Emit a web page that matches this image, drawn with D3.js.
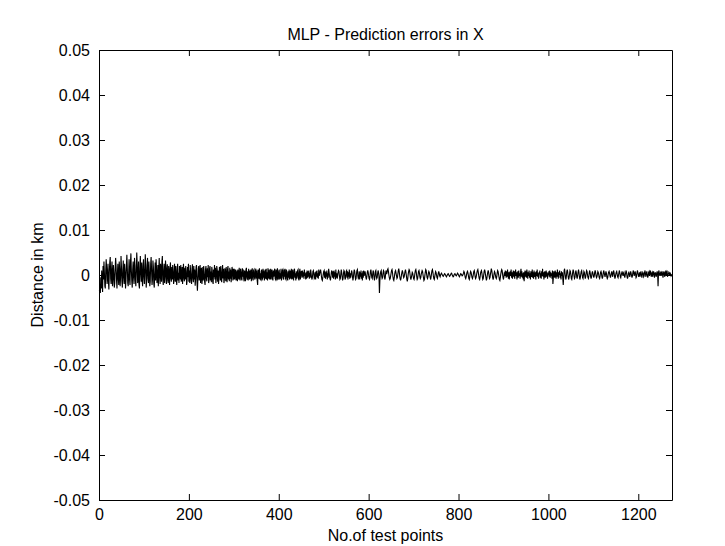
<!DOCTYPE html>
<html>
<head>
<meta charset="utf-8">
<script src="https://cdn.jsdelivr.net/npm/d3@7"></script>
<style>
  body { margin: 0; background: #fff; }
  svg text { font-family: "Liberation Sans", Arial, Helvetica, sans-serif; fill: #000; }
</style>
</head>
<body>
<svg id="chart" width="725" height="546"></svg>
<script>
// prediction error per test point, in units of 0.0001 km
const errorsX = [
  -35,-20,-40,-5,-30,10,-15,-38,20,-10, 30,5,-25,-30,10,35,15,-20,-5,25,
  -15,-32,8,28,40,-8,-20,12,30,-25, -10,22,5,-28,-18,15,38,20,-12,-30,
  5,25,-8,-22,30,12,-25,-5,42,18, -15,-28,10,32,-5,-20,25,8,-30,-12,
  20,45,15,-18,-25,5,35,-10,-22,28, 48,10,-15,-28,12,30,-5,-20,38,22,
  -12,-25,8,50,25,-18,-8,30,-22,-30, 15,42,5,-15,28,-10,-25,20,35,-5,
  -20,10,46,18,-28,-12,22,38,-8,-18, 30,8,-25,-15,25,40,10,-22,-10,32,
  18,-20,-28,5,28,-12,35,15,-18,-8, 22,-25,10,38,-5,-20,25,12,-15,30,
  42,-10,-22,8,25,-18,-5,32,15,-20, 10,24,-12,-18,20,5,-22,15,28,-8,
  -15,18,-10,22,8,-20,-12,25,12,-15, 20,-8,-22,10,25,-12,5,-18,20,15,
  -10,22,-15,-5,18,-20,12,25,-8,-14, 16,-10,20,8,-22,-12,18,-5,25,-15,
  10,-18,22,5,-12,-20,15,24,-8,-16, 20,-10,12,-24,-8,18,22,-15,-35,-10,
  15,20,-12,-5,22,-18,10,16,-20,-8, 18,-12,20,5,-15,-22,12,20,-8,-14,
  15,-5,22,-18,-10,14,20,-12,8,-16, 18,10,-15,-20,12,-5,22,-10,16,-18,
  -8,20,12,-15,10,-20,-5,18,14,-12, 20,-10,-16,8,22,-8,14,-18,-10,15,
  10,-14,18,-6,-16,12,20,-10,8,-14, 16,-8,12,-16,-4,18,10,-12,14,-10,
  14,-10,6,12,-12,-8,10,-14,12,4, -10,16,-6,-12,14,8,-8,-12,15,-4,
  12,-8,-14,10,4,-14,12,16,-6,-10, 8,-12,14,2,-10,10,-8,12,-14,6,
  15,-8,-12,10,12,-6,-10,8,14,-8, 10,-12,-22,12,6,-8,15,-10,4,-12,
  8,12,-10,-8,14,-6,10,-12,-4,12, -8,14,-10,6,-12,15,2,-8,12,-10,
  -6,14,-10,8,12,-8,-12,10,-4,8, 14,-8,-10,12,6,-12,15,-6,-10,8,
  12,-10,4,-8,14,-12,-6,10,12,-6, -10,12,-4,14,-8,-10,12,6,-8,-12,
  8,-6,12,-10,4,10,-8,14,-10,-4, 12,-8,-10,10,14,-6,4,-12,8,-8,
  -4,10,12,-8,-12,6,14,-10,-2,8,
  8,-6,10,-4,6,-8,12,-2,4,-10, 6,-8,10,-6,8,-4,10,-8,5,-6,
  12,4,-6,-10,-4,8,10,2,-8,-6, 6,-10,8,-4,10,-6,4,-8,12,-2,
  2,8,12,6,-4,-10,-12,-6,2,8, 10,-6,8,-8,6,-4,10,-10,4,-6,
  14,6,-2,-8,-12,-4,6,10,4,-6, 8,-8,10,-4,6,-10,12,-6,4,-8,
  -2,6,10,8,-2,-10,-8,2,12,6, -4,-12,-8,4,10,8,-6,-10,-2,8,
  10,-6,8,-10,6,-4,12,-8,4,-6, 2,10,6,-4,-12,-6,6,12,8,-4,
  -10,-8,4,10,12,-2,-8,-6,8,-10, 6,-4,10,-8,4,-12,8,-6,10,-2,
  4,8,2,-6,-10,-4,6,10,6,-2, -8,-10,-2,8,12,4,-6,-8,2,10,
  6,-6,-12,-4,8,10,-2,-8,-6,4, 10,6,-4,-40,-12,2,8,10,-2,-8,
  -6,4,10,8,-4,-10,-6,6,10,2,
  6,12,14,8,0,-6,-10,-8,-2,4, 10,12,6,-4,-10,-12,-6,2,8,10,
  4,-2,-8,-6,2,10,14,8,-2,-8, -12,-8,0,6,10,6,-2,-6,-4,2,
  8,12,6,-2,-10,-14,-8,2,8,12, 10,2,-6,-10,-6,0,6,4,-2,-8,
  -10,-4,4,10,12,6,-4,-10,-8,0, 8,10,4,-4,-8,-6,2,6,10,8,
  0,-6,-12,-10,-2,6,12,10,2,-6, -8,-4,4,8,6,0,-6,-10,-4,4,
  10,12,6,-2,-8,-10,-4,2,8,6, 0,-6,-8,-2,4,8,4,-2,-4,0,
  2,4,2,0,-2,-3,-1,1,3,2, 0,-2,-4,-2,0,2,3,1,-1,-3,
  -2,0,2,4,3,0,-2,-4,-3,0, 2,3,1,-1,-2,0,2,4,2,0,
  -2,-4,-2,1,3,2,0,-2,-1,1,
  4,8,6,0,-6,-8,-4,2,6,8, 4,-2,-8,-10,-4,4,8,6,0,-6,
  -8,-4,2,8,10,4,-4,-8,-6,0, 6,10,12,6,-2,-8,-10,-4,4,8,
  10,4,-4,-10,-8,0,8,12,8,0, -6,-12,-8,0,6,10,6,-2,-8,-6,
  2,8,14,10,2,-6,-10,-6,2,8, 6,0,-6,-8,-4,4,10,8,2,-4,
  -10,-12,-6,2,8,12,10,2,-6,-10,
  -4,6,-2,10,4,-6,8,-4,12,2, -8,6,-10,4,8,-2,12,-6,6,-8,
  2,10,-4,8,-8,4,12,-2,6,-10, 0,8,-6,10,-2,4,-8,6,14,-4,
  8,-6,4,-10,6,-14,2,10,-4,8, -6,12,4,-8,6,-2,10,-6,4,-10,
  8,2,-4,12,-6,6,-8,10,0,-4, 6,-10,8,-2,12,-4,4,-8,6,2,
  10,-6,4,-8,8,-2,14,-4,6,-10, 4,8,-6,2,10,-4,6,-8,4,0,
  8,-4,10,-6,6,-2,4,-8,10,-20, -6,8,2,-6,10,4,-8,6,-4,12,
  2,-8,6,0,10,-6,4,-10,8,-2, 6,-8,-22,-4,10,14,4,-6,-10,-2,
  8,12,6,-4,-10,-6,2,10,8,0, -8,-10,-2,6,12,8,-2,-8,-6,4,
  10,6,-4,-8,-2,6,12,6,-4,-10, -6,2,8,10,2,-6,-8,0,8,6,
  -2,-8,-4,4,10,8,0,-6,-8,-2, 6,10,4,-4,-8,-4,4,8,4,-2,
  -6,-2,6,10,6,-2,-6,-4,2,8, 6,0,-6,-8,-2,6,8,4,-4,-8,
  -4,4,10,6,0,-4,2,8,4,-4, -8,-6,2,6,8,4,-2,-6,-2,4,
  8,2,-4,4,10,6,-2,-8,-4,2, 6,8,2,-4,-6,0,6,10,4,-4,
  -6,0,4,8,2,-2,4,6,-2,-6, 0,6,10,4,-4,-8,-4,4,6,2,
  -4,2,8,4,-2,-6,-2,6,10,4, -2,4,8,2,-6,-4,4,10,6,0,
  -4,2,6,-4,4,8,0,-6,2,6, 4,-4,-2,6,10,2,-4,4,8,0,
  -6,-2,6,8,-2,4,10,2,-4,4, 6,-4,2,8,4,-6,2,6,0,-4,
  4,8,2,-25,6,10,2,-2,4,6, -2,4,8,0,-6,4,8,2,-4,6,
  8,-2,4,10,-4,2,2,6,4,-2, 4,2,-2,0,-2
];
const errorUnit = 0.0001; // km

const xTicks = [0, 200, 400, 600, 800, 1000, 1200];
const xMax = 1275;
const yTicks = [-0.05, -0.04, -0.03, -0.02, -0.01, 0, 0.01, 0.02, 0.03, 0.04, 0.05];
const yTickLabels = ["-0.05", "-0.04", "-0.03", "-0.02", "-0.01", "0", "0.01", "0.02", "0.03", "0.04", "0.05"];

const titleText = "MLP - Prediction errors in X";
const xTitle = "No.of test points";
const yTitle = "Distance in km";

let svg = d3.select("#chart");
let mLeft = 99, mRight = 672, mTop = 50, mBottom = 500;
let tickLen = 6;

let x = d3.scaleLinear().domain([0, xMax]).range([mLeft, mRight]);
let y = d3.scaleLinear().domain([-0.05, 0.05]).range([mBottom, mTop]);

// data line first, axes box drawn over it
let line = d3.line()
  .x((d, i) => x(i + 1))
  .y(d => y(d * errorUnit));

svg.append("path")
  .datum(errorsX)
  .attr("d", line)
  .attr("fill", "none")
  .attr("stroke", "#000")
  .attr("stroke-width", 1.1);

// inward ticks on all four sides, labels only on bottom/left
let axB = d3.axisBottom(x).tickValues(xTicks).tickSizeInner(-tickLen).tickSizeOuter(0).tickPadding(9).tickFormat(d3.format("d"));
let axT = d3.axisTop(x).tickValues(xTicks).tickSizeInner(-tickLen).tickSizeOuter(0).tickFormat("");
let axL = d3.axisLeft(y).tickValues(yTicks).tickSizeInner(-tickLen).tickSizeOuter(0).tickPadding(9)
  .tickFormat((d, i) => yTickLabels[i]);
let axR = d3.axisRight(y).tickValues(yTicks).tickSizeInner(-tickLen).tickSizeOuter(0).tickFormat("");

function styleAxis(g) {
  g.selectAll("path").attr("stroke", "#000");
  g.selectAll("line").attr("stroke", "#000");
  g.selectAll("text").attr("font-size", 16).attr("font-family", null);
}

svg.append("g").attr("transform", `translate(0,${mBottom})`).call(axB).call(styleAxis);
svg.append("g").attr("transform", `translate(0,${mTop})`).call(axT).call(styleAxis);
svg.append("g").attr("transform", `translate(${mLeft},0)`).call(axL).call(styleAxis);
svg.append("g").attr("transform", `translate(${mRight},0)`).call(axR).call(styleAxis);

svg.append("text")
  .attr("x", (mLeft + mRight) / 2).attr("y", 40)
  .attr("text-anchor", "middle").attr("font-size", 16)
  .text(titleText);

svg.append("text")
  .attr("x", (mLeft + mRight) / 2).attr("y", 541)
  .attr("text-anchor", "middle").attr("font-size", 16)
  .text(xTitle);

svg.append("text")
  .attr("transform", `translate(43,${(mTop + mBottom) / 2}) rotate(-90)`)
  .attr("text-anchor", "middle").attr("font-size", 16)
  .text(yTitle);
</script>
</body>
</html>
